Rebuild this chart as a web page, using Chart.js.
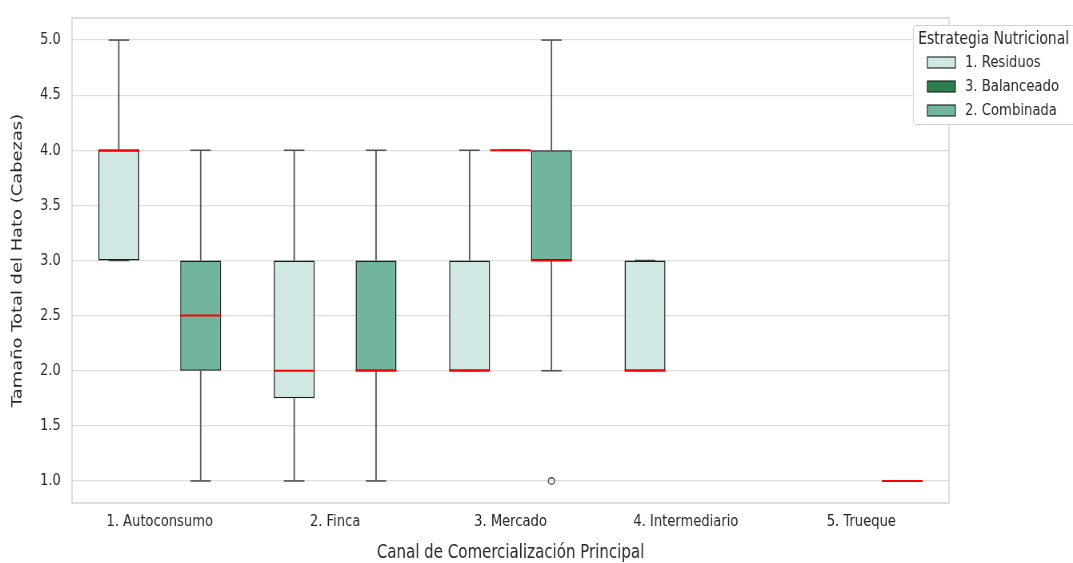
<!DOCTYPE html>
<html><head><meta charset="utf-8">
<script src="https://cdn.jsdelivr.net/npm/chart.js@4.4.1/dist/chart.umd.min.js"></script>
<style>
html,body{margin:0;padding:0;background:#fff;overflow:hidden;width:1073px;height:563px}
#wrap{width:1341px;height:563px;transform:scaleX(0.80015);transform-origin:0 0}
canvas{display:block}
</style>
</head><body><div id="wrap"><canvas id="c" width="1341" height="563"></canvas></div>
<script>
const categories = ['1. Autoconsumo','2. Finca','3. Mercado','4. Intermediario','5. Trueque'];
const hues = ['1. Residuos','3. Balanceado','2. Combinada'];
const hueColors = ['#d0e8e3','#2e7d4f','#72b59e'];
const yTicks = [1.0,1.5,2.0,2.5,3.0,3.5,4.0,4.5,5.0];
// box stats per hue: min, q1, median, q3, max for each category
const residuosMin = [3, 1, 2, 2, null];
const residuosQ1  = [3, 1.75, 2, 2, null];
const residuosMed = [4, 2, 2, 2, null];
const residuosQ3  = [4, 3, 3, 3, null];
const residuosMax = [5, 4, 4, 3, null];
const residuosOut = [[],[],[],[],[]];
const balanceadoMin = [null, null, 4, null, null];
const balanceadoQ1  = [null, null, 4, null, null];
const balanceadoMed = [null, null, 4, null, null];
const balanceadoQ3  = [null, null, 4, null, null];
const balanceadoMax = [null, null, 4, null, null];
const balanceadoOut = [[],[],[],[],[]];
const combinadaMin = [1, 1, 2, null, 1];
const combinadaQ1  = [2, 2, 3, null, 1];
const combinadaMed = [2.5, 2, 3, null, 1];
const combinadaQ3  = [3, 3, 4, null, 1];
const combinadaMax = [4, 4, 5, null, 1];
const combinadaOut = [[],[],[1],[],[]];

const stats = [
  {min:residuosMin,q1:residuosQ1,med:residuosMed,q3:residuosQ3,max:residuosMax,out:residuosOut},
  {min:balanceadoMin,q1:balanceadoQ1,med:balanceadoMed,q3:balanceadoQ3,max:balanceadoMax,out:balanceadoOut},
  {min:combinadaMin,q1:combinadaQ1,med:combinadaMed,q3:combinadaQ3,max:combinadaMax,out:combinadaOut}
];

const SQ = 0.80015; // horizontal squeeze of the picture
const FONT = '"DejaVu Sans",sans-serif';
const TXT = '#262626';

const datasets = hues.map((h, k) => ({
  label: h,
  data: stats[k].q1.map((v, i) => v === null ? null : [v, stats[k].q3[i]]),
  backgroundColor: hueColors[k],
  borderColor: '#1a1a1a',
  borderWidth: 1.5,
  borderSkipped: false,
  barPercentage: 1.0,
  categoryPercentage: 0.7
}));

const boxPlugin = {
  id: 'boxParts',
  beforeDatasetsDraw(chart) {
    const ctx = chart.ctx, y = chart.scales.y;
    ctx.save();
    ctx.strokeStyle = '#555555';
    chart.data.datasets.forEach((ds, k) => {
      const meta = chart.getDatasetMeta(k);
      const s = stats[k];
      meta.data.forEach((el, i) => {
        if (s.q1[i] === null) return;
        const {x, width} = el.getProps(['x','width'], true);
        const cw = width / 2;
        ctx.lineWidth = 1.8;
        const seg = (a, b) => {
          ctx.beginPath();
          ctx.moveTo(x, y.getPixelForValue(a));
          ctx.lineTo(x, y.getPixelForValue(b));
          ctx.stroke();
        };
        seg(s.q3[i], s.max[i]);
        seg(s.q1[i], s.min[i]);
        ctx.lineWidth = 1.6;
        [s.min[i], s.max[i]].forEach(v => {
          const py = y.getPixelForValue(v);
          ctx.beginPath();
          ctx.moveTo(x - cw/2, py); ctx.lineTo(x + cw/2, py); ctx.stroke();
        });
      });
    });
    ctx.restore();
  },
  afterDatasetsDraw(chart) {
    const ctx = chart.ctx, y = chart.scales.y;
    ctx.save();
    chart.data.datasets.forEach((ds, k) => {
      const meta = chart.getDatasetMeta(k);
      const s = stats[k];
      meta.data.forEach((el, i) => {
        if (s.q1[i] === null) return;
        const {x, width} = el.getProps(['x','width'], true);
        const py = y.getPixelForValue(s.med[i]);
        ctx.strokeStyle = '#ff0000';
        ctx.lineWidth = 2;
        ctx.beginPath();
        ctx.moveTo(x - width/2, py); ctx.lineTo(x + width/2, py); ctx.stroke();
        s.out[i].forEach(v => {
          ctx.strokeStyle = '#444';
          ctx.lineWidth = 1.3;
          ctx.beginPath();
          ctx.ellipse(x, y.getPixelForValue(v), 3.2 / SQ, 3.2, 0, 0, Math.PI*2);
          ctx.stroke();
        });
      });
    });
    ctx.restore();
  },
  afterDraw(chart) {
    const ctx = chart.ctx, a = chart.chartArea;
    ctx.save();
    ctx.strokeStyle = '#cccccc';
    ctx.lineWidth = 1.3;
    ctx.strokeRect(a.left, a.top, a.right - a.left, a.bottom - a.top);
    // legend
    const lx = 1141.5, ly = 25.5, lw = 210, lh = 99;
    ctx.fillStyle = 'rgba(255,255,255,0.85)';
    ctx.strokeStyle = '#d0d0d0';
    ctx.lineWidth = 1;
    ctx.beginPath();
    if (ctx.roundRect) ctx.roundRect(lx, ly, lw, lh, 3); else ctx.rect(lx, ly, lw, lh);
    ctx.fill(); ctx.stroke();
    ctx.fillStyle = TXT;
    ctx.textBaseline = 'middle';
    ctx.textAlign = 'left';
    ctx.font = '17.4px ' + FONT;
    ctx.fillText('Estrategia Nutricional', 1147.5, 39);
    ctx.font = '16.5px ' + FONT;
    hues.forEach((h, k) => {
      const cy = 62.5 + k * 24;
      ctx.fillStyle = hueColors[k];
      ctx.fillRect(1159, cy - 5.5, 35, 11);
      ctx.strokeStyle = '#1a1a1a';
      ctx.lineWidth = 1.1;
      ctx.strokeRect(1159, cy - 5.5, 35, 11);
      ctx.fillStyle = TXT;
      ctx.fillText(h, 1206, cy + 0.5);
    });
    ctx.restore();
  }
};

new Chart(document.getElementById('c'), {
  type: 'bar',
  data: { labels: categories, datasets },
  options: {
    responsive: false,
    animation: false,
    devicePixelRatio: 1,
    layout: { padding: { top: 18, right: 155, left: 0, bottom: 0 } },
    plugins: { legend: { display: false }, tooltip: { enabled: false } },
    scales: {
      x: {
        grid: { display: false, drawTicks: false },
        border: { display: false },
        ticks: { color: TXT, font: { family: FONT, size: 16.4 }, padding: 9, maxRotation: 0 },
        title: { display: true, text: 'Canal de Comercialización Principal', color: TXT,
                 font: { family: FONT, size: 18.8 }, padding: { top: 0, bottom: -1.5 } },
        afterFit(s) { s.height = 60; s.paddingLeft = 0; s.paddingRight = 0; }
      },
      y: {
        min: 0.8, max: 5.2,
        afterBuildTicks(s) { s.ticks = yTicks.map(v => ({ value: v })); },
        grid: { color: '#dddddd', lineWidth: 1.2, drawTicks: false },
        border: { display: false },
        ticks: { color: TXT, font: { family: FONT, size: 16.4 }, padding: 14,
                 callback: v => Number(v).toFixed(1) },
        title: { display: true, text: 'Tamaño Total del Hato (Cabezas)', color: TXT,
                 font: { family: FONT, size: 17.9 }, padding: { top: 12, bottom: 0 } },
        afterFit(s) { s.width = 90; s.paddingTop = 0; s.paddingBottom = 0; }
      }
    }
  },
  plugins: [boxPlugin]
});
</script></body></html>
